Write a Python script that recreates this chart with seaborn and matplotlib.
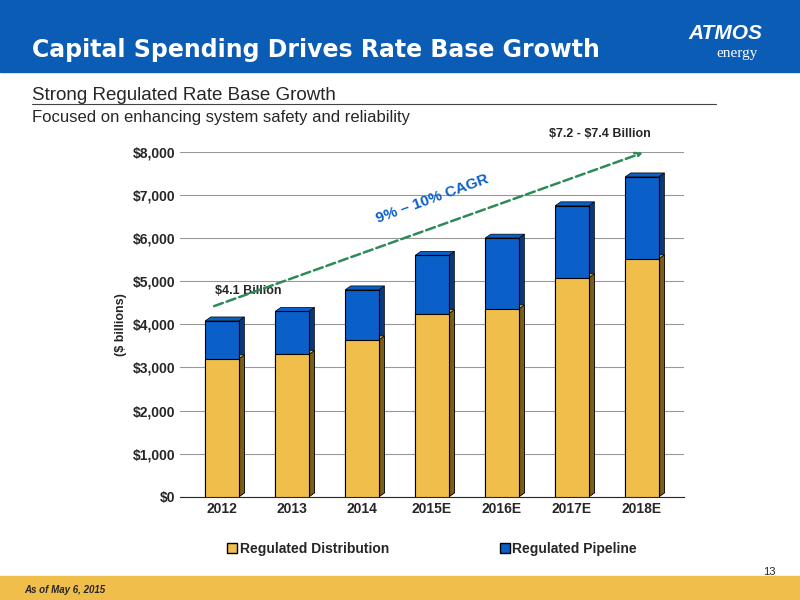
import matplotlib
matplotlib.use("Agg")
import matplotlib.pyplot as plt
import matplotlib.patches as mpatches
import seaborn as sns
import pandas as pd

years = ['2012', '2013', '2014', '2015E', '2016E', '2017E', '2018E']
distribution = [3200, 3300, 3640, 4250, 4360, 5080, 5520]
pipeline = [880, 1000, 1160, 1350, 1640, 1670, 1900]

yellow = '#F0BE4A'
blue = '#0A5FC8'

sns.set_style('white')
plt.rcParams['font.family'] = ['Liberation Sans', 'DejaVu Sans']

fig = plt.figure(figsize=(8, 6), dpi=100)

# header / footer bands
fig.patches.append(mpatches.Rectangle((0, 0.88), 1, 0.12, transform=fig.transFigure, color='#0B5CB5', zorder=0))
fig.patches.append(mpatches.Rectangle((0, 0), 1, 0.04, transform=fig.transFigure, color='#F0BE4A', zorder=0))
fig.text(0.04, 0.905, 'Capital Spending Drives Rate Base Growth', color='white', fontsize=17,
         fontweight='heavy', family=['DejaVu Sans'])
fig.text(0.86, 0.935, 'ATMOS', color='white', fontsize=15, fontweight='bold', fontstyle='italic')
fig.text(0.895, 0.905, 'energy', color='white', fontsize=11, family=['Liberation Serif'])
fig.text(0.04, 0.833, 'Strong Regulated Rate Base Growth', fontsize=13.5)
fig.lines.append(plt.Line2D([0.04, 0.895], [0.826, 0.826], transform=fig.transFigure, color='#444444', lw=0.8))
fig.text(0.04, 0.797, 'Focused on enhancing system safety and reliability', fontsize=12)
fig.text(0.97, 0.042, '13', fontsize=8, ha='right')
fig.text(0.03, 0.011, 'As of May 6, 2015', fontsize=7, fontweight='bold', fontstyle='italic')

ax = fig.add_axes([0.225, 0.172, 0.63, 0.575])
df = pd.DataFrame({'year': years, 'dist': distribution,
                   'total': [d + p for d, p in zip(distribution, pipeline)]})
sns.barplot(data=df, x='year', y='total', color=blue, width=0.48, edgecolor='black', linewidth=0.8, ax=ax, zorder=3, saturation=1)
sns.barplot(data=df, x='year', y='dist', color=yellow, width=0.48, edgecolor='black', linewidth=0.8, ax=ax, zorder=4, saturation=1)

# fake 3D side shading from bar patches
for p in list(ax.patches):
    x0, w, h, y0 = p.get_x(), p.get_width(), p.get_height(), p.get_y()
    dark = '#7A5E1E' if p.get_facecolor()[0] > 0.5 else '#083A7A'
    side = mpatches.Polygon([[x0 + w, y0], [x0 + w + 0.08, y0 + 90], [x0 + w + 0.08, y0 + h + 90], [x0 + w, y0 + h]],
                            closed=True, facecolor=dark, edgecolor='black', lw=0.5, zorder=2)
    ax.add_patch(side)
    top = mpatches.Polygon([[x0, y0 + h], [x0 + 0.08, y0 + h + 90], [x0 + w + 0.08, y0 + h + 90], [x0 + w, y0 + h]],
                           closed=True, facecolor=p.get_facecolor(), edgecolor='black', lw=0.5, zorder=2)
    ax.add_patch(top)

ax.set_ylim(0, 8000)
ax.set_xlim(-0.6, 6.6)
ax.set_yticks(range(0, 8001, 1000))
ax.set_yticklabels(['\\${:,}'.format(v) for v in range(0, 8001, 1000)], fontweight='bold', fontsize=10)
ax.set_xticks(range(len(years)))
ax.set_xticklabels(years, fontweight='bold', fontsize=10)
ax.yaxis.grid(True, color='#999999', lw=0.8, zorder=0)
ax.set_xlabel('')
ax.set_ylabel('(\\$ billions)', fontweight='bold', fontsize=9)
for s in ['top', 'right', 'left']:
    ax.spines[s].set_visible(False)
ax.tick_params(axis='both', length=0)

ax.annotate('', xy=(6.05, 8000), xytext=(-0.15, 4400),
            arrowprops=dict(arrowstyle='->', color='#2E8B57', lw=1.8, linestyle='--'), zorder=6)
ax.text(-0.1, 4700, '\\$4.1 Billion', fontsize=9, fontweight='bold')
ax.text(5.4, 8350, '\\$7.2 - \\$7.4 Billion', fontsize=9, fontweight='bold', ha='center')
ax.text(3.0, 6350, '9% – 10% CAGR', fontsize=11, fontweight='bold', color=blue, rotation=20, ha='center')

handles = [mpatches.Patch(facecolor=yellow, edgecolor='black', label='Regulated Distribution'),
           mpatches.Patch(facecolor=blue, edgecolor='black', label='Regulated Pipeline')]
fig.legend(handles=handles, loc='center', bbox_to_anchor=(0.54, 0.085), ncol=2, frameon=False,
           prop={'weight': 'bold', 'size': 10}, columnspacing=8, handlelength=0.7, handletextpad=0.2)

fig.savefig('out.png', dpi=100)
